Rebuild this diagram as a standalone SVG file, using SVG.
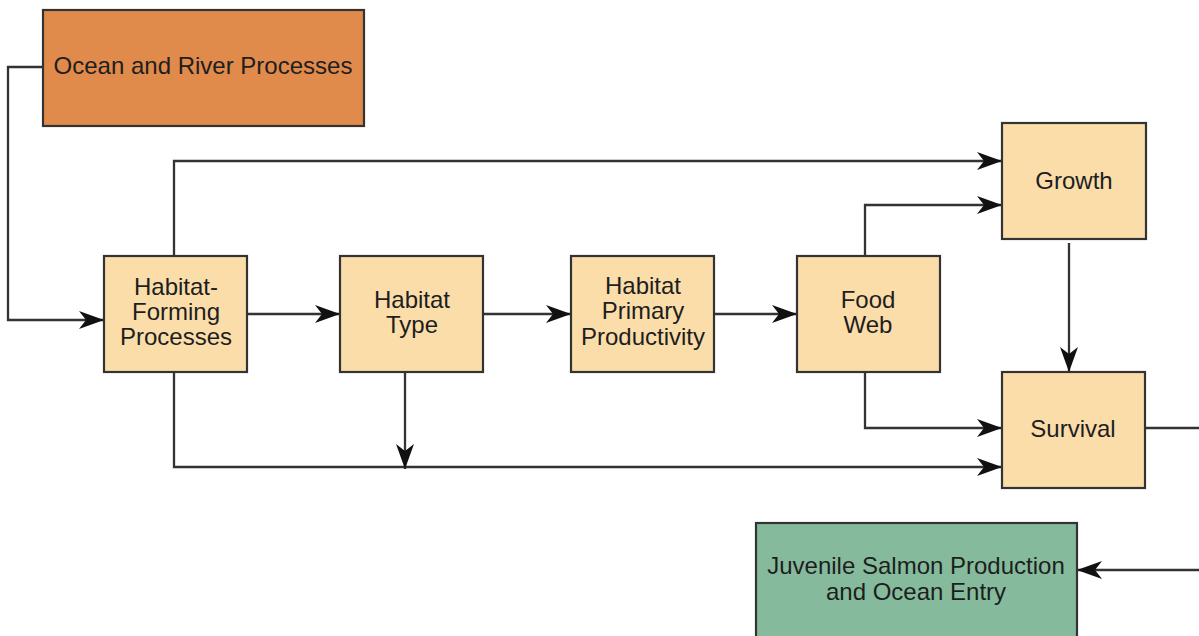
<svg xmlns="http://www.w3.org/2000/svg" width="1199" height="636" viewBox="0 0 1199 636">
<style>
.box{fill:#FBDDAA;stroke:#333;stroke-width:2.2}
.ocean{fill:#E08A4B;stroke:#333;stroke-width:2.2}
.green{fill:#85BB9C;stroke:#333;stroke-width:2.2}
text{font-family:"Liberation Sans",Arial,sans-serif;font-size:24px;fill:#1e1e1e;text-anchor:middle}
.conn path{fill:none;stroke:#333;stroke-width:2.3;marker-end:url(#ah)}
</style>
<defs>
<marker id="ah" markerUnits="userSpaceOnUse" markerWidth="26" markerHeight="18" refX="25" refY="9" orient="auto">
<path d="M0,0 L25,9 L0,18 L7,9 z" fill="#111"/>
</marker>
</defs>
<rect width="1199" height="636" fill="#fff"/>
<g class="conn">
<path d="M43,67 H8 V320 H104"/>
<path d="M247,314 H340"/>
<path d="M483,314 H571"/>
<path d="M714,314 H797"/>
<path d="M174,256 V161 H1002"/>
<path d="M865,256 V205 H1002"/>
<path d="M1069,243 V372"/>
<path d="M865,372 V428 H1002"/>
<path d="M174,372 V467 H1002"/>
<path d="M405,372 V469"/>
<path d="M1145,428 H1206 V570 H1077"/>
</g>
<g id="ocean"><rect class="ocean" x="43" y="10" width="321" height="116"/><text x="203" y="74">Ocean and River Processes</text></g>
<g id="hfp"><rect class="box" x="104" y="256" width="143" height="116"/><text x="176" y="295">Habitat-</text><text x="176" y="320">Forming</text><text x="176" y="345">Processes</text></g>
<g id="htype"><rect class="box" x="340" y="256" width="143" height="116"/><text x="412" y="308">Habitat</text><text x="412" y="333">Type</text></g>
<g id="hpp"><rect class="box" x="571" y="256" width="143" height="116"/><text x="643" y="294">Habitat</text><text x="643" y="319">Primary</text><text x="643" y="345">Productivity</text></g>
<g id="foodweb"><rect class="box" x="797" y="256" width="143" height="116"/><text x="868" y="308">Food</text><text x="868" y="333">Web</text></g>
<g id="growth"><rect class="box" x="1002" y="123" width="144" height="116"/><text x="1074" y="189">Growth</text></g>
<g id="survival"><rect class="box" x="1002" y="372" width="143" height="116"/><text x="1073" y="437">Survival</text></g>
<g id="juvenile"><rect class="green" x="756" y="523" width="321" height="130"/><text x="916" y="574">Juvenile Salmon Production</text><text x="916" y="600">and Ocean Entry</text></g>
</svg>
